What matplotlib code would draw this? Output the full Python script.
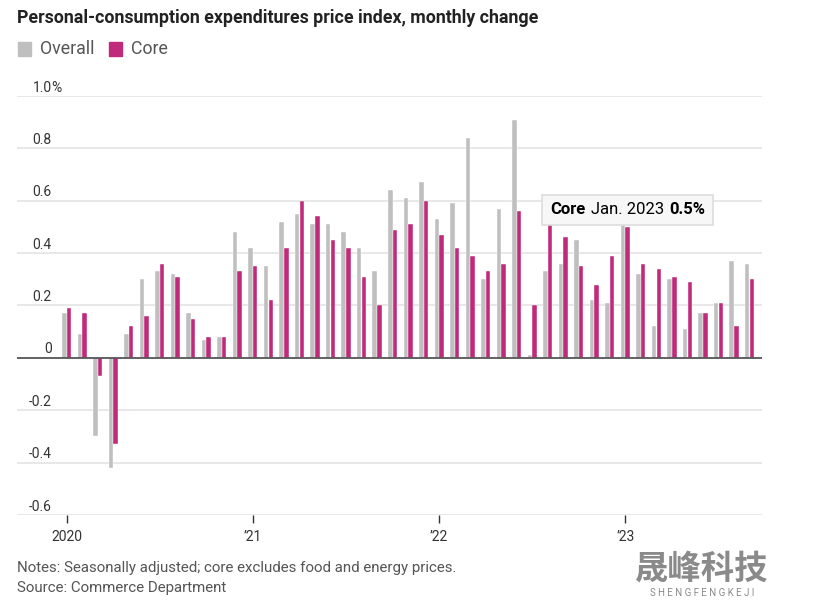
import numpy as np
import matplotlib.pyplot as plt
from matplotlib.offsetbox import TextArea, HPacker, AnnotationBbox

# monthly change, Jan 2020 - Sep 2023
overall = [0.17, 0.09, -0.30, -0.42, 0.09, 0.30, 0.33, 0.32, 0.17, 0.07, 0.08, 0.48,
           0.42, 0.35, 0.52, 0.55, 0.51, 0.51, 0.48, 0.42, 0.33, 0.64, 0.61, 0.67,
           0.53, 0.59, 0.84, 0.30, 0.57, 0.91, 0.01, 0.33, 0.36, 0.45, 0.22, 0.21,
           0.55, 0.32, 0.12, 0.30, 0.11, 0.17, 0.21, 0.37, 0.36]
core = [0.19, 0.17, -0.07, -0.33, 0.12, 0.16, 0.36, 0.31, 0.15, 0.08, 0.08, 0.33,
        0.35, 0.22, 0.42, 0.60, 0.54, 0.45, 0.42, 0.31, 0.20, 0.49, 0.51, 0.60,
        0.47, 0.42, 0.39, 0.33, 0.36, 0.56, 0.20, 0.55, 0.46, 0.35, 0.28, 0.39,
        0.50, 0.36, 0.34, 0.31, 0.29, 0.17, 0.21, 0.12, 0.30]
year_ticks = [0, 12, 24, 36]
year_labels = ["2020", "\u201921", "\u201922", "\u201923"]
y_ticks = [1.0, 0.8, 0.6, 0.4, 0.2, 0, -0.2, -0.4, -0.6]
y_labels = ["1.0", "0.8", "0.6", "0.4", "0.2", "0", "-0.2", "-0.4", "-0.6"]
hl_idx = 36  # Jan. 2023

GRAY = "#bfbfbf"
PINK = "#c12a7b"
FONT = "Roboto"

plt.rcParams['font.family'] = [FONT, 'DejaVu Sans']

fig = plt.figure(figsize=(8.25, 6), dpi=100)
ax = fig.add_axes([0.0206, 0.1417, 0.9030, 0.6983])

x = np.arange(len(overall))
w = 0.29
ax.bar(x - 0.15, overall, width=w, color=GRAY, edgecolor="white", linewidth=0.3, zorder=3)
ax.bar(x + 0.15, core, width=w, color=PINK, edgecolor="white", linewidth=0.3, zorder=3)

ax.set_xlim(-3.2, 44.8)
ax.set_ylim(-0.6, 1.0)

# gridlines
for v in y_ticks:
    if v == 0:
        ax.axhline(0, color="#555555", lw=1.3, zorder=4)
    else:
        ax.axhline(v, color="#e6e6e6", lw=1.3, zorder=1)

for s in ax.spines.values():
    s.set_visible(False)
ax.set_yticks([])
ax.set_xticks(year_ticks)
ax.set_xticklabels(year_labels, fontsize=10, color="#333333")
ax.tick_params(axis="x", length=6, width=1, color="#333333", pad=5)

# y labels sit above gridlines
for v, lab in zip(y_ticks, y_labels):
    ax.annotate(lab, xy=(0, v), xycoords=("axes fraction", "data"),
                xytext=(25, 1), textcoords="offset points", ha="right", va="bottom",
                fontsize=10, color="#333333")
ax.annotate("%", xy=(0, 1.0), xycoords=("axes fraction", "data"),
            xytext=(25, 1), textcoords="offset points", ha="left", va="bottom",
            fontsize=10, color="#333333")

# tooltip
parts = [TextArea("Core", textprops=dict(fontsize=12, fontweight="bold", color="black")),
         TextArea("Jan. 2023", textprops=dict(fontsize=12, color="black")),
         TextArea("0.5%", textprops=dict(fontsize=12, fontweight="bold", color="black"))]
box = HPacker(children=parts, align="baseline", pad=0, sep=4)
ab = AnnotationBbox(box, (hl_idx + 0.15, core[hl_idx]), xybox=(0, 7),
                    boxcoords="offset points", box_alignment=(0.5, 0),
                    frameon=True, pad=0.55,
                    bboxprops=dict(facecolor="#f7f7f7", edgecolor="#dddddd", lw=1.2))
ab.set_zorder(6)
ax.add_artist(ab)

# title and legend
fig.text(0.021, 0.985, "Personal-consumption expenditures price index, monthly change",
         fontsize=12.8, fontweight="bold", color="#222222", va="top")
fig.patches.append(plt.Rectangle((18 / 825, 1 - 56 / 600), 13 / 825, 14 / 600,
                                 transform=fig.transFigure, color=GRAY, figure=fig))
fig.text(40 / 825, 1 - 49 / 600, "Overall", fontsize=12.8, color="#555555", va="center")
fig.patches.append(plt.Rectangle((109 / 825, 1 - 56 / 600), 13 / 825, 14 / 600,
                                 transform=fig.transFigure, color=PINK, figure=fig))
fig.text(131 / 825, 1 - 49 / 600, "Core", fontsize=12.8, color="#555555", va="center")

# notes
fig.text(0.021, 1 - 568 / 600, "Notes: Seasonally adjusted; core excludes food and energy prices.",
         fontsize=10.8, color="#555555", va="center")
fig.text(0.021, 1 - 588 / 600, "Source: Commerce Department",
         fontsize=10.8, color="#555555", va="center")

# watermark
fig.text(702 / 825, 1 - 569 / 600, "晟峰科技", fontsize=24, fontweight="bold",
         color="#8a8a8a", family=["Noto Sans CJK SC"], ha="center", va="center")
fig.text(702 / 825, 1 - 593 / 600, "S H E N G F E N G K E J I", fontsize=7,
         color="#8a8a8a", ha="center", va="center")

fig.savefig("out.png", dpi=100)
